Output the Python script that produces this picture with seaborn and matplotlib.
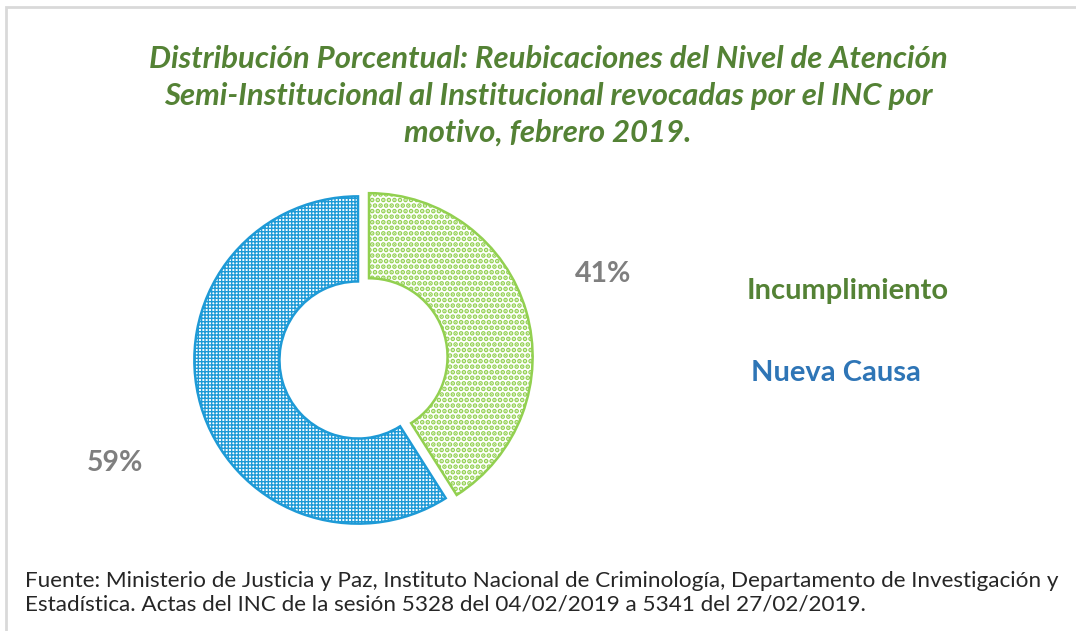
import matplotlib
matplotlib.use('Agg')
import matplotlib.pyplot as plt
import matplotlib.patches as mpatches
import seaborn as sns

sns.set_theme(style='white')
plt.rcParams['font.family'] = ['Lato', 'DejaVu Sans']
plt.rcParams['hatch.linewidth'] = 1.0

# datos
categorias = ['Incumplimiento', 'Nueva Causa']
porcentajes = [41, 59]
colores = ['#92D050', '#1E9AD6']
colores_texto = ['#548235', '#2E75B6']
tramas = ['...', '+++++']
grosor_trama = [2.4, 1.0]

titulo = ('Distribución Porcentual: Reubicaciones del Nivel de Atención\n'
          'Semi-Institucional al Institucional revocadas por el INC por\n'
          'motivo, febrero 2019.')
fuente = ('Fuente: Ministerio de Justicia y Paz, Instituto Nacional de Criminología, Departamento de Investigación y\n'
          'Estadística. Actas del INC de la sesión 5328 del 04/02/2019 a 5341 del 27/02/2019.')

W, H = 1076, 631
fig = plt.figure(figsize=(W / 100, H / 100), dpi=100)

# marco gris del gráfico
fig.patches.append(mpatches.Rectangle((6 / W, -0.1), 1.2, 1 - 7 / H + 0.1,
                                      transform=fig.transFigure, fill=False,
                                      edgecolor='#D9D9D9', linewidth=2))

# dona
cx, cy, r = 358, 360, 180
ax = fig.add_axes([(cx - r) / W, (H - cy - r) / H, 2 * r / W, 2 * r / H])
wedges, _ = ax.pie(porcentajes, startangle=90, counterclock=False,
                   explode=[0.07, 0], colors=['white', 'white'],
                   wedgeprops=dict(width=0.52, linewidth=1.8))
for w, c, h, g in zip(wedges, colores, tramas, grosor_trama):
    w.set_edgecolor(c)
    w.set_hatch(h)
    if hasattr(w, 'set_hatch_linewidth'):
        w.set_hatch_linewidth(g)
ax.set_xlim(-1.1, 1.1)
ax.set_ylim(-1.1, 1.1)
ax.set_aspect('equal')
ax.axis('off')

# etiquetas de porcentaje
fig.text(603 / W, 1 - 274 / H, f'{porcentajes[0]}%', ha='center', va='center',
         fontsize=20.5, fontweight='bold', color='#7F7F7F')
fig.text(115 / W, 1 - 463 / H, f'{porcentajes[1]}%', ha='center', va='center',
         fontsize=20.5, fontweight='bold', color='#7F7F7F')

# leyenda como texto
fig.text(848 / W, 1 - 291 / H, categorias[0], ha='center', va='center',
         fontsize=21, fontweight='bold', color=colores_texto[0])
fig.text(836 / W, 1 - 373 / H, categorias[1], ha='center', va='center',
         fontsize=21, fontweight='bold', color=colores_texto[1])

fig.text(548 / W, 1 - 96 / H, titulo, ha='center', va='center', fontsize=22.4,
         fontweight='bold', fontstyle='italic', color='#548235', linespacing=1.38)

fig.text(25 / W, 1 - 593 / H, fuente, ha='left', va='center', fontsize=16.2,
         color='#262626', linespacing=1.24)

fig.savefig('out.png', dpi=100)
